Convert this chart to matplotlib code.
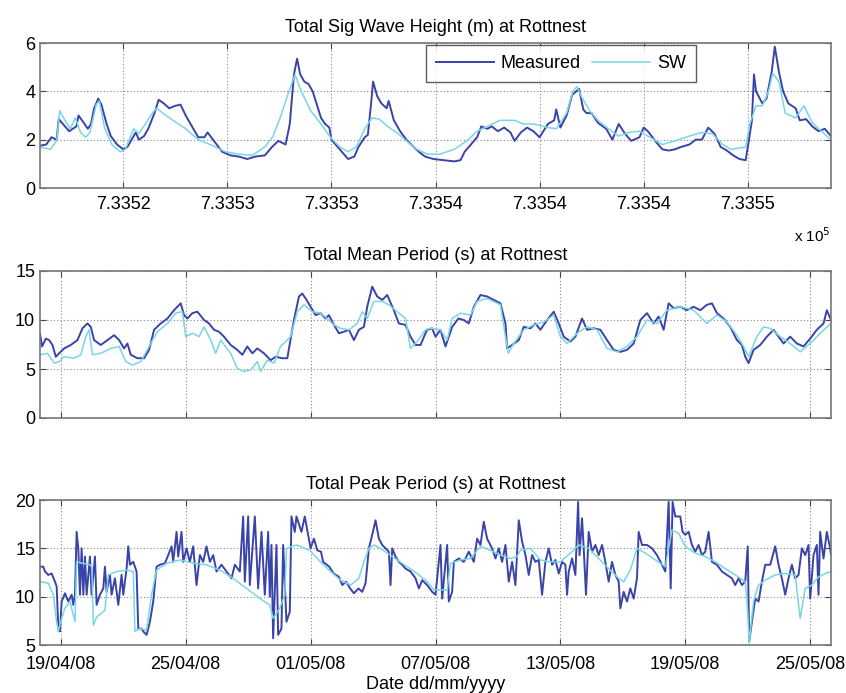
import numpy as np
import matplotlib
matplotlib.use("Agg")
from matplotlib import pyplot as plt

# time axis: days after datenum 733516 (18/04/2008 00:00)
t0 = 733516

# Total significant wave height (m)
hs_meas_day = [0.0, 0.3, 0.55, 0.8, 0.9, 1.1, 1.4, 1.75, 1.85, 2.1, 2.3, 2.45, 2.6, 2.8, 2.95, 3.2, 3.4, 3.7,
               4.0, 4.2, 4.4, 4.6, 4.75, 5.0, 5.2, 5.5, 5.7, 5.95, 6.2, 6.5, 6.75, 7.0, 7.3, 7.6, 7.9, 8.05,
               8.4, 8.75, 9.15, 9.55, 9.95, 10.35, 10.8, 11.15, 11.45, 11.8, 12.0, 12.2, 12.35, 12.5, 12.7,
               12.9, 13.1, 13.3, 13.5, 13.7, 13.9, 14.0, 14.3, 14.5, 14.8, 15.1, 15.3, 15.6, 15.75, 15.9,
               16.0, 16.2, 16.4, 16.65, 16.75, 17.0, 17.3, 17.6, 17.95, 18.2, 18.5, 18.9, 19.4, 19.9, 20.2,
               20.4, 20.7, 21.0, 21.2, 21.5, 21.7, 22.0, 22.3, 22.6, 22.8, 23.1, 23.4, 23.7, 24.0, 24.4,
               24.7, 24.8, 25.0, 25.3, 25.56, 25.9, 26.1, 26.25, 26.5, 26.8, 27.2, 27.5, 27.8, 28.1, 28.4,
               28.8, 29.0, 29.2, 29.6, 29.9, 30.2, 30.5, 30.8, 31.2, 31.5, 31.8, 32.1, 32.4, 32.7, 33.0,
               33.3, 33.6, 33.9, 34.05, 34.2, 34.3, 34.4, 34.7, 34.9, 35.15, 35.3, 35.5, 35.7, 35.95, 36.3,
               36.5, 36.8, 37.1, 37.4, 37.7, 38.0]
hs_meas = [1.75, 1.8, 2.1, 2.0, 2.85, 2.65, 2.35, 2.55, 3.0, 2.7, 2.45, 2.65, 3.3, 3.7, 3.45, 2.65, 2.15, 1.8,
           1.6, 1.7, 2.0, 2.3, 2.0, 2.15, 2.45, 3.1, 3.65, 3.5, 3.3, 3.4, 3.45, 3.0, 2.55, 2.1, 2.1, 2.3,
           1.9, 1.5, 1.35, 1.3, 1.2, 1.3, 1.35, 1.7, 1.95, 1.8, 2.65, 4.7, 5.35, 4.7, 4.4,
           4.3, 4.0, 3.45, 2.9, 2.65, 2.5, 2.0, 1.7, 1.5, 1.2, 1.3, 1.7, 2.1, 2.2, 3.45,
           4.4, 3.8, 3.5, 3.3, 3.6, 2.8, 2.35, 2.0, 1.7, 1.5, 1.3, 1.2, 1.15, 1.1, 1.15,
           1.5, 1.8, 2.1, 2.55, 2.45, 2.55, 2.35, 2.5, 2.3, 1.95, 2.3, 2.5, 2.35, 2.1, 2.65,
           2.8, 3.25, 2.5, 3.0, 3.85, 4.1, 3.25, 3.1, 3.1, 2.7, 2.45, 2.0, 2.65, 2.25, 1.95,
           2.1, 2.5, 2.35, 1.9, 1.6, 1.55, 1.6, 1.7, 1.8, 2.0, 2.0, 2.5, 2.25, 1.7, 1.55,
           1.35, 1.2, 1.15, 1.95, 2.8, 4.7, 4.0, 3.5, 3.7, 4.8, 5.85, 4.8, 4.0, 3.5, 3.3,
           2.8, 2.85, 2.55, 2.35, 2.45, 2.15]
hs_sw_day = [0.0, 0.5, 0.8, 0.95, 1.2, 1.45, 1.7, 1.95, 2.2, 2.4, 2.7, 2.85, 3.1, 3.45, 3.85, 4.1, 4.5, 4.75,
             5.1, 5.4, 5.6, 5.9, 6.3, 7.0, 7.6, 8.3, 8.9, 9.55, 10.2, 10.8, 11.2, 11.6, 11.9, 12.25, 12.55,
             13.0, 13.5, 13.95, 14.4, 14.8, 15.2, 15.6, 15.95, 16.3, 16.7, 17.2, 17.6, 18.1, 18.6, 19.2,
             19.9, 20.5, 21.0, 21.5, 22.1, 22.8, 23.2, 23.7, 24.4, 24.8, 25.3, 25.6, 25.8, 26.0, 26.4,
             26.8, 27.3, 27.8, 28.3, 28.8, 29.2, 29.9, 30.5, 31.2, 31.8, 32.3, 32.8, 33.2, 33.9, 34.1,
             34.4, 34.7, 35.0, 35.2, 35.5, 35.8, 36.3, 36.7, 37.1, 37.6, 38.0]
hs_sw = [1.7, 1.6, 1.95, 3.2, 2.8, 2.45, 2.9, 2.3, 2.1, 2.3, 3.45, 3.6, 2.5, 1.8, 1.5, 1.6, 2.45, 2.25,
         2.7, 3.1, 3.3, 3.1, 2.85, 2.45, 2.0, 1.75, 1.5, 1.4, 1.35, 1.7, 2.15, 3.05, 3.85, 4.7, 4.0,
         3.2, 2.65, 2.1, 1.7, 1.5, 1.7, 2.45, 2.9, 2.85, 2.55, 2.25, 1.95, 1.6, 1.4, 1.4,
         1.6, 1.95, 2.35, 2.55, 2.8, 2.8, 2.65, 2.65, 2.5, 2.45, 3.1, 4.0, 4.2, 3.8, 3.2,
         2.8, 2.45, 2.15, 2.3, 2.35, 2.15, 1.8, 1.95, 2.15, 2.3, 2.25, 1.8, 1.6, 1.7, 2.65,
         3.4, 3.4, 4.0, 4.75, 4.4, 3.1, 2.9, 3.4, 2.7, 2.3, 2.0]

# Total mean period (s)
tm_meas_day = [0.0, 0.1, 0.28, 0.44, 0.6, 0.76, 0.92, 1.16, 1.48, 1.8, 2.04, 2.28, 2.44, 2.6, 2.92, 3.24, 3.56,
               3.8, 4.04, 4.2, 4.36, 4.68, 5.0, 5.24, 5.48, 5.8, 6.12, 6.44, 6.76, 6.92, 7.08, 7.32, 7.56,
               7.88, 8.12, 8.36, 8.6, 8.84, 9.16, 9.48, 9.72, 9.96, 10.2, 10.44, 10.76, 11.08, 11.32, 11.64,
               11.88, 12.2, 12.44, 12.6, 12.76, 13.0, 13.24, 13.48, 13.72, 13.88, 14.12, 14.36, 14.6, 14.84,
               15.08, 15.32, 15.56, 15.72, 15.96, 16.2, 16.44, 16.68, 17.0, 17.24, 17.56, 17.8, 18.04, 18.28,
               18.52, 18.6, 18.84, 19.0, 19.24, 19.48, 19.8, 20.1, 20.36, 20.6, 20.84, 21.16, 21.48, 21.8,
               22.12, 22.36, 22.44, 22.68, 23.0, 23.24, 23.56, 23.8, 24.04, 24.36, 24.68, 24.92, 25.16,
               25.48, 25.72, 26.04, 26.28, 26.6, 26.92, 27.24, 27.56, 27.88, 28.2, 28.52, 28.84, 29.16,
               29.48, 29.72, 29.96, 30.2, 30.44, 30.76, 31.08, 31.4, 31.72, 32.04, 32.28, 32.52, 32.84,
               33.16, 33.48, 33.72, 33.88, 34.04, 34.28, 34.6, 34.92, 35.24, 35.48, 35.72, 36.04, 36.36,
               36.68, 37.0, 37.32, 37.64, 37.8, 38.0]
tm_meas = [8.6, 7.3, 8.1, 7.95, 7.45, 6.25, 6.6, 7.1, 7.45, 7.95, 9.15, 9.65, 9.3, 7.95, 7.45, 7.95, 8.45,
           7.95, 7.1, 7.6, 6.45, 6.1, 6.1, 6.95, 9.0, 9.65, 10.15, 11.0, 11.7, 10.5, 10.15, 10.7, 10.85,
           10.0, 9.65, 9.0, 8.8, 8.3, 7.45, 6.95, 6.45, 7.3, 6.6, 7.1, 6.6, 5.9, 6.25, 6.1,
           6.1, 10.0, 12.4, 12.7, 12.2, 11.35, 10.5, 10.7, 10.15, 10.5, 9.5, 8.65, 8.8, 9.0,
           7.95, 9.0, 9.3, 11.35, 13.4, 12.4, 12.05, 12.55, 11.0, 9.65, 9.5, 8.3, 7.45, 7.45,
           8.65, 9.0, 9.15, 8.3, 9.0, 7.3, 9.3, 10.15, 10.0, 9.65, 11.35, 12.55, 12.4, 12.05,
           11.7, 9.65, 7.1, 7.45, 7.95, 9.3, 9.15, 9.65, 9.0, 10.0, 10.85, 9.65, 8.3,
           7.8, 8.3, 10.15, 9.0, 9.15, 9.0, 7.95, 6.95, 6.75, 6.95, 7.6, 10.0, 10.7,
           9.65, 10.35, 9.0, 11.7, 11.2, 11.35, 11.0, 11.35, 11.0, 11.55, 11.7, 10.7, 10.15,
           9.3, 7.95, 7.45, 6.25, 5.6, 6.95, 7.45, 8.3, 9.0, 8.3, 7.6, 8.3, 7.6,
           7.3, 8.1, 9.0, 9.65, 11.0, 10.0]
tm_sw_day = [0.0, 0.36, 0.68, 0.92, 1.16, 1.64, 1.96, 2.2, 2.36, 2.52, 2.92, 3.4, 3.8, 4.12, 4.44, 4.84, 5.24,
             5.64, 6.12, 6.52, 6.84, 7.0, 7.32, 7.64, 7.88, 8.2, 8.44, 8.68, 9.16, 9.48, 9.8, 10.12, 10.44,
             10.6, 10.92, 11.24, 11.56, 12.04, 12.36, 12.68, 13.08, 13.48, 13.8, 14.12, 14.44, 14.84, 15.24,
             15.48, 15.72, 16.04, 16.44, 16.76, 17.16, 17.56, 17.8, 18.12, 18.52, 18.76, 19.24, 19.56, 19.8,
             20.2, 20.68, 21.0, 21.48, 22.12, 22.36, 22.5, 22.76, 23.24, 23.72, 24.2, 24.68, 25.0, 25.32,
             25.8, 26.28, 26.76, 27.24, 27.72, 28.2, 28.68, 29.16, 29.64, 30.12, 30.76, 31.4, 32.04, 32.52,
             33.0, 33.48, 33.8, 34.04, 34.44, 34.76, 35.08, 35.56, 36.04, 36.52, 37.0, 37.48, 38.0]
tm_sw = [6.45, 6.6, 5.6, 5.75, 6.25, 6.1, 6.45, 8.3, 9.0, 6.45, 6.6, 7.1, 7.3, 5.75, 5.4, 5.75, 7.3,
         8.8, 9.65, 10.7, 10.85, 8.3, 8.65, 8.3, 9.3, 7.95, 6.6, 7.95, 6.6, 5.05, 4.75, 4.9, 5.75,
         4.75, 5.9, 5.6, 7.3, 8.3, 10.85, 11.55, 10.85, 10.7, 10.15, 9.5, 9.15, 9.0, 9.65,
         10.85, 10.15, 11.9, 11.9, 11.55, 10.85, 10.15, 7.1, 7.8, 9.0, 9.15, 9.0, 7.95, 10.15,
         10.7, 10.5, 11.9, 12.2, 11.55, 8.3, 6.6, 7.6, 9.0, 9.5, 9.8, 10.5, 8.3, 7.6,
         8.65, 9.3, 9.0, 7.1, 6.75, 7.3, 8.3, 10.0, 9.65, 11.0, 11.35, 11.0, 9.65, 10.5,
         9.8, 8.45, 7.3, 6.25, 8.3, 9.3, 9.15, 8.3, 7.6, 6.75, 7.6, 8.65, 9.65]

# Total peak period (s)
tp_meas_day = [0.0, 0.16, 0.24, 0.4, 0.56, 0.72, 0.8, 0.88, 0.96, 1.04, 1.2, 1.36, 1.52, 1.6, 1.68, 1.76, 1.84,
               1.92, 2.0, 2.08, 2.16, 2.24, 2.4, 2.48, 2.64, 2.72, 2.88, 3.04, 3.12, 3.2, 3.36, 3.44, 3.6,
               3.76, 3.92, 4.0, 4.16, 4.24, 4.32, 4.48, 4.64, 4.72, 4.88, 4.96, 5.12, 5.28, 5.44, 5.6, 5.76,
               6.0, 6.16, 6.32, 6.4, 6.56, 6.64, 6.8, 6.88, 7.04, 7.2, 7.36, 7.52, 7.68, 7.84, 8.0, 8.16,
               8.32, 8.48, 8.72, 8.96, 9.2, 9.36, 9.6, 9.76, 9.84, 10.0, 10.08, 10.32, 10.48, 10.64, 10.8,
               10.96, 11.04, 11.12, 11.2, 11.36, 11.44, 11.6, 11.68, 11.84, 12.0, 12.08, 12.24, 12.32, 12.56,
               12.72, 12.88, 13.0, 13.16, 13.32, 13.5, 13.6, 13.9, 14.1, 14.36, 14.52, 14.7, 14.9, 15.08,
               15.3, 15.48, 15.64, 15.8, 15.96, 16.12, 16.28, 16.44, 16.6, 16.76, 16.84, 16.92, 17.08, 17.24,
               17.4, 17.56, 17.8, 18.04, 18.2, 18.36, 18.6, 18.84, 19.0, 19.24, 19.32, 19.56, 19.64, 19.8,
               19.88, 20.12, 20.36, 20.6, 20.84, 21.0, 21.16, 21.32, 21.48, 21.72, 21.88, 22.04, 22.2, 22.36,
               22.52, 22.68, 22.84, 23.0, 23.16, 23.32, 23.48, 23.64, 23.8, 23.96, 24.12, 24.28, 24.44, 24.6,
               24.76, 24.92, 25.08, 25.24, 25.32, 25.4, 25.56, 25.72, 25.85, 25.92, 26.04, 26.12, 26.23,
               26.36, 26.52, 26.68, 26.84, 27.0, 27.16, 27.32, 27.48, 27.64, 27.8, 27.88, 28.04, 28.2, 28.36,
               28.52, 28.68, 28.76, 28.92, 29.16, 29.4, 29.64, 29.88, 30.04, 30.2, 30.3, 30.39, 30.52, 30.76,
               30.87, 31.0, 31.16, 31.32, 31.48, 31.64, 31.8, 31.96, 32.12, 32.28, 32.52, 32.76, 33.0, 33.24,
               33.4, 33.56, 33.72, 33.88, 34.0, 34.07, 34.2, 34.36, 34.52, 34.68, 34.84, 35.08, 35.32, 35.48,
               35.64, 35.8, 35.96, 36.12, 36.28, 36.44, 36.6, 36.76, 36.92, 37.0, 37.16, 37.32, 37.4, 37.48,
               37.64, 37.8, 37.96, 38.0]
tp_meas = [13.1, 13.1, 12.6, 12.25, 12.4, 11.55, 11.05, 6.7, 6.4, 9.5, 10.35, 9.5, 10.2, 9.15, 10.2, 16.7, 15.0,
           10.2, 15.0, 10.2, 14.15, 10.2, 14.15, 10.2, 14.15, 9.15, 10.2, 10.85, 13.1, 10.5, 12.25, 10.2, 11.9,
           9.15, 12.25, 10.2, 12.9, 15.2, 13.3, 13.6, 12.6, 6.7, 6.7, 6.4, 6.05, 7.4, 9.5, 13.1, 13.3,
           13.45, 14.3, 15.2, 13.6, 16.7, 14.15, 16.7, 13.6, 15.0, 13.6, 15.2, 11.2, 14.3, 13.6, 15.2, 13.6,
           14.3, 12.6, 13.3, 12.6, 11.9, 13.3, 12.6, 18.3, 11.55, 18.3, 11.2, 18.3, 10.85, 16.7, 10.2,
           16.7, 10.0, 15.35, 5.7, 15.35, 6.05, 6.7, 15.35, 7.4, 8.45, 18.3, 16.7, 18.3, 16.7,
           18.3, 16.4, 15.0, 16.0, 14.8, 14.65, 13.6, 13.1, 12.4, 12.05, 11.2, 11.55, 10.85, 10.35,
           10.85, 10.5, 11.4, 15.0, 16.4, 17.9, 16.0, 15.35, 15.0, 14.65, 11.2, 15.0, 14.15, 13.6,
           13.3, 12.9, 12.6, 11.9, 10.85, 11.7, 11.2, 10.5, 10.2, 15.35, 9.8, 15.35, 9.5, 10.5,
           13.6, 13.95, 13.6, 14.65, 13.6, 16.0, 15.35, 17.75, 16.0, 15.0, 13.95, 15.0, 13.6, 15.35,
           11.55, 13.6, 11.2, 17.9, 15.7, 14.3, 12.25, 14.3, 13.6, 13.8, 10.2, 13.6, 15.0, 13.3,
           13.8, 12.4, 13.6, 13.3, 10.2, 12.6, 13.95, 12.25, 19.8, 14.3, 18.1, 15.0, 10.2,
           16.7, 14.65, 15.35, 14.3, 15.35, 13.6, 11.55, 13.6, 12.25, 11.55, 8.8, 10.5, 9.5, 10.85,
           9.8, 11.9, 16.7, 15.35, 15.35, 15.0, 14.3, 13.3, 12.6, 19.8, 10.85, 19.8, 18.3, 18.3,
           16.7, 16.4, 16.7, 15.35, 14.65, 15.35, 14.3, 14.65, 16.7, 13.6, 13.3, 12.6, 12.25, 11.9,
           11.2, 11.9, 11.2, 11.55, 15.2, 5.35, 7.4, 9.8, 9.5, 11.55, 13.3, 13.3, 15.2, 13.3,
           11.9, 10.2, 11.9, 13.3, 11.9, 12.25, 15.0, 14.3, 15.35, 9.8, 14.3, 15.35, 10.2, 16.7,
           13.95, 16.7, 15.0, 14.3]
tp_sw_day = [0.0, 0.4, 0.64, 0.8, 0.88, 1.04, 1.2, 1.44, 1.6, 1.68, 1.76, 2.08, 2.4, 2.5, 2.56, 2.72, 2.96,
             3.12, 3.28, 3.68, 4.16, 4.48, 4.56, 4.8, 5.12, 5.36, 5.6, 6.08, 6.72, 7.36, 8.0, 8.64, 9.28,
             9.92, 10.56, 11.04, 11.2, 11.52, 11.76, 11.84, 12.32, 12.96, 13.48, 13.96, 14.44, 14.92, 15.32,
             15.56, 15.8, 16.04, 16.36, 16.68, 17.16, 17.64, 18.12, 18.6, 18.92, 19.56, 19.72, 20.2, 20.68,
             21.16, 21.64, 22.12, 22.6, 22.92, 23.08, 23.56, 24.04, 24.52, 25.0, 25.56, 25.88, 26.36, 26.84,
             27.32, 27.8, 28.04, 28.36, 28.68, 29.08, 29.56, 30.04, 30.36, 30.68, 31.0, 31.48, 31.96, 32.44,
             32.92, 33.4, 33.88, 34.0, 34.07, 34.28, 34.52, 34.84, 35.32, 35.8, 36.28, 36.52, 36.76, 37.08,
             37.4, 37.72, 38.0]
tp_sw = [11.55, 11.4, 10.2, 7.4, 6.4, 7.75, 8.8, 9.5, 8.1, 7.4, 13.6, 13.45, 13.3, 13.0, 7.05, 7.9, 8.3,
         8.6, 12.25, 12.6, 12.75, 12.6, 6.4, 6.7, 6.55, 10.2, 12.75, 13.45, 13.8, 13.45, 13.3, 12.75, 11.9,
         10.85, 9.8, 9.15, 7.75, 8.8, 10.2, 15.0, 15.35, 14.8, 13.6, 12.6, 11.7, 11.2, 11.9,
         13.6, 15.0, 15.35, 15.0, 14.5, 13.8, 13.1, 12.4, 11.55, 10.7, 10.7, 13.45, 13.8, 13.95,
         15.2, 14.8, 14.3, 13.95, 14.15, 14.8, 15.0, 13.8, 13.6, 13.6, 14.65, 15.35, 15.0, 13.95,
         12.9, 11.9, 11.55, 12.75, 15.0, 14.5, 13.8, 13.1, 16.9, 16.55, 15.2, 14.5, 14.15, 13.6,
         12.9, 12.25, 11.55, 8.45, 5.2, 9.5, 11.2, 11.7, 12.25, 12.4, 12.25, 7.75, 10.85, 11.2,
         12.05, 12.4, 12.6]

# tick labels
top_tick_labels = ['7.3352', '7.3353', '7.3353', '7.3354', '7.3354', '7.3354', '7.3355']
date_tick_labels = ['19/04/08', '25/04/08', '01/05/08', '07/05/08', '13/05/08', '19/05/08', '25/05/08']

meas_color = '#3a43a8'
sw_color = '#78d6e6'

plt.rcParams['font.family'] = ['Liberation Sans', 'DejaVu Sans']
plt.rcParams['font.size'] = 13

fig = plt.figure(figsize=(8.46, 6.93), dpi=100)
W, H = 846.0, 693.0
boxes = [(43, 188), (271, 418), (500, 645)]
axes = []
for top, bot in boxes:
    ax = fig.add_axes([40 / W, 1 - bot / H, (831 - 40) / W, (bot - top) / H])
    axes.append(ax)

panels = [
    (hs_meas_day, hs_meas, hs_sw_day, hs_sw, 'Total Sig Wave Height (m) at Rottnest', (0, 6), [0, 2, 4, 6]),
    (tm_meas_day, tm_meas, tm_sw_day, tm_sw, 'Total Mean Period (s) at Rottnest', (0, 15), [0, 5, 10, 15]),
    (tp_meas_day, tp_meas, tp_sw_day, tp_sw, 'Total Peak Period (s) at Rottnest', (5, 20), [5, 10, 15, 20]),
]

for ax, (md, mv, sd, sv, title, ylim, yt) in zip(axes, panels):
    ax.plot(t0 + np.array(md), mv, color=meas_color, lw=1.4, label='Measured')
    ax.plot(t0 + np.array(sd), sv, color=sw_color, lw=1.1, label='SW')
    ax.set_xlim(t0, t0 + 38)
    ax.set_ylim(*ylim)
    ax.set_yticks(yt)
    ax.set_title(title, fontsize=13, pad=8)
    ax.grid(True, color='#888888', linestyle=(0, (1, 2)), linewidth=0.8)
    ax.tick_params(direction='in', top=True, right=True, length=4, color='#444444', labelsize=13)
    ax.tick_params(axis='x', pad=6)
    for sp in ax.spines.values():
        sp.set_color('#777777')
        sp.set_linewidth(1.2)

date_ticks = t0 + 1 + 6 * np.arange(7)
axes[0].set_xticks(t0 + 4 + 5 * np.arange(7))
axes[0].set_xticklabels(top_tick_labels)
axes[1].set_xticks(date_ticks)
axes[1].set_xticklabels([])
axes[2].set_xticks(date_ticks)
axes[2].set_xticklabels(date_tick_labels)
axes[2].tick_params(axis='x', pad=8)
axes[2].set_xlabel('Date dd/mm/yyyy', fontsize=13, labelpad=2)

leg = axes[0].legend(loc='upper left', bbox_to_anchor=((426 - 40) / 791.0, (188 - 45) / 145.0),
                     ncol=2, frameon=True, fancybox=False, borderaxespad=0, handlelength=3.2,
                     columnspacing=0.6, handletextpad=0.4, fontsize=13, borderpad=0.55)
leg.get_frame().set_edgecolor('#333333')
leg.get_frame().set_linewidth(1.0)

fig.text(812 / W, 1 - 236 / H, r'x 10$^5$', ha='center', va='center', fontsize=11)

fig.savefig('out.png', dpi=100)
